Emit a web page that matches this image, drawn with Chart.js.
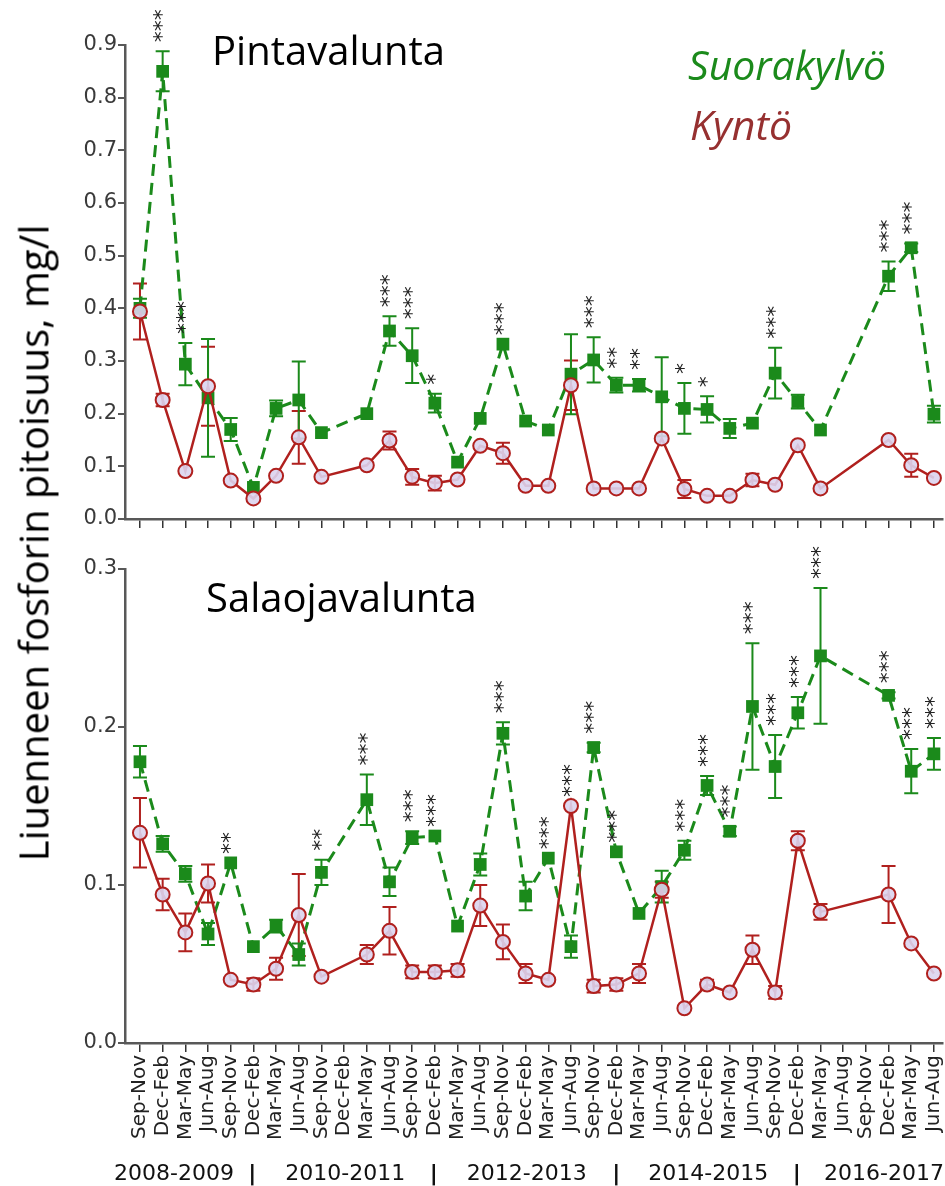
<!DOCTYPE html>
<html>
<head>
<meta charset="utf-8">
<script src="https://cdn.jsdelivr.net/npm/chart.js@4.4.1/dist/chart.umd.min.js"></script>
<style>
  html, body { margin: 0; padding: 0; background: #fff; }
  #wrap { position: relative; width: 945px; height: 1186px; overflow: hidden; }
  #topChart { position: absolute; left: 0; top: 0; }
  #botChart { position: absolute; left: 0; top: 540px; }
  #ytitle {
    position: absolute; left: 33px; top: 543px;
    transform: translate(-50%, -50%) rotate(-90deg);
    font-family: "Open Sans", sans-serif; font-size: 40px; color: #000;
    white-space: nowrap;
  }
</style>
</head>
<body>
<div id="wrap">
  <canvas id="topChart" width="952" height="540"></canvas>
  <canvas id="botChart" width="952" height="646"></canvas>
  <div id="ytitle">Liuenneen fosforin pitoisuus, mg/l</div>
</div>
<script>
// ---- data ----
const seasons = ['Sep-Nov', 'Dec-Feb', 'Mar-May', 'Jun-Aug'];
const categories = Array.from({length: 36}, (_, i) => seasons[i % 4]);
const yearLabels = ['2008-2009', '2010-2011', '2012-2013', '2014-2015', '2016-2017'];

// Pintavalunta (surface runoff)
const topSuora = [0.40, 0.85, 0.294, 0.23, 0.17, 0.06, 0.21, 0.226, 0.164, null, 0.20, 0.357,
                  0.31, 0.22, 0.108, 0.191, 0.332, 0.186, 0.169, 0.275, 0.302, 0.254, 0.254, 0.232,
                  0.21, 0.208, 0.172, 0.182, 0.277, 0.223, 0.169, null, null, 0.461, 0.515, 0.199];
const topSuoraErr = [0.018, 0.038, 0.04, 0.112, 0.022, 0, 0.015, 0.073, 0, 0, 0, 0.028,
                     0.052, 0.018, 0, 0, 0, 0, 0, 0.076, 0.043, 0.014, 0.012, 0.075,
                     0.048, 0.025, 0.018, 0, 0.048, 0.013, 0, 0, 0, 0.028, 0.008, 0.016];
const topKynto = [0.394, 0.226, 0.091, 0.252, 0.073, 0.039, 0.082, 0.155, 0.08, null, 0.102, 0.149,
                  0.08, 0.068, 0.075, 0.139, 0.125, 0.063, 0.063, 0.254, 0.058, 0.058, 0.058, 0.153,
                  0.057, 0.044, 0.044, 0.074, 0.065, 0.14, 0.058, null, null, 0.15, 0.102, 0.078];
const topKyntoErr = [0.053, 0.012, 0, 0.075, 0, 0, 0, 0.05, 0, 0, 0, 0.017,
                     0.015, 0.014, 0, 0, 0.02, 0, 0, 0.047, 0, 0, 0, 0,
                     0.017, 0, 0, 0.012, 0, 0, 0, 0, 0, 0, 0.022, 0];
const topSig = ['', '***', '***', '', '', '', '', '', '', '', '', '***',
                '***', '*', '', '', '***', '', '', '', '***', '**', '**', '',
                '*', '*', '', '', '***', '', '', '', '', '***', '***', ''];

// Salaojavalunta (drainage runoff)
const botSuora = [0.178, 0.126, 0.107, 0.069, 0.114, 0.061, 0.074, 0.056, 0.108, null, 0.154, 0.102,
                  0.13, 0.131, 0.074, 0.113, 0.196, 0.093, 0.117, 0.061, 0.187, 0.121, 0.082, 0.099,
                  0.122, 0.163, 0.134, 0.213, 0.175, 0.209, 0.245, null, null, 0.22, 0.172, 0.183];
const botSuoraErr = [0.01, 0.005, 0.005, 0.007, 0, 0, 0.004, 0.007, 0.008, 0, 0.016, 0.009,
                     0.004, 0, 0, 0.007, 0.007, 0.009, 0, 0.007, 0.003, 0, 0, 0.01,
                     0.006, 0.006, 0.003, 0.04, 0.02, 0.01, 0.043, 0, 0, 0.002, 0.014, 0.01];
const botKynto = [0.133, 0.094, 0.07, 0.101, 0.04, 0.037, 0.047, 0.081, 0.042, null, 0.056, 0.071,
                  0.045, 0.045, 0.046, 0.087, 0.064, 0.044, 0.04, 0.15, 0.036, 0.037, 0.044, 0.097,
                  0.022, 0.037, 0.032, 0.059, 0.032, 0.128, 0.083, null, null, 0.094, 0.063, 0.044];
const botKyntoErr = [0.022, 0.01, 0.012, 0.012, 0, 0.004, 0.007, 0.026, 0, 0, 0.006, 0.015,
                     0.004, 0.004, 0.004, 0.013, 0.011, 0.006, 0, 0, 0.004, 0.004, 0.006, 0.005,
                     0, 0.003, 0, 0.009, 0.004, 0.006, 0.005, 0, 0, 0.018, 0, 0];
const botSig = ['', '', '', '', '**', '', '', '', '**', '', '***', '',
                '***', '***', '', '', '***', '', '***', '***', '***', '***', '', '',
                '***', '***', '***', '***', '***', '***', '***', '', '', '***', '***', '***'];

const GREEN = '#1b8a1b';
const RED = '#b0201e';
const AXIS = '#585858';

function pts(vals, errs) {
  return vals.map((v, i) => ({x: i, y: v, e: errs[i]})).filter(p => p.y !== null);
}

// error bars under the lines
const errorBars = {
  id: 'errorBars',
  beforeDatasetsDraw(chart) {
    const ctx = chart.ctx, ys = chart.scales.y, xs = chart.scales.x;
    chart.data.datasets.forEach(ds => {
      ctx.save();
      ctx.strokeStyle = ds.borderColor;
      ctx.lineWidth = 2;
      ds.data.forEach(p => {
        if (!p.e) return;
        const x = xs.getPixelForValue(p.x);
        const hi = ys.getPixelForValue(p.y + p.e), lo = ys.getPixelForValue(p.y - p.e);
        ctx.beginPath();
        ctx.moveTo(x, hi); ctx.lineTo(x, lo);
        ctx.moveTo(x - 7, hi); ctx.lineTo(x + 7, hi);
        ctx.moveTo(x - 7, lo); ctx.lineTo(x + 7, lo);
        ctx.stroke();
      });
      ctx.restore();
    });
  }
};

// significance stars + free texts
const extras = {
  id: 'extras',
  afterDraw(chart, args, opts) {
    const ctx = chart.ctx, ys = chart.scales.y, xs = chart.scales.x;
    ctx.save();
    (opts.sig || []).forEach((s, i) => {
      if (!s) return;
      let top = 0;
      chart.data.datasets.forEach(ds => {
        const p = ds.data.find(d => d.x === i);
        if (p) top = Math.max(top, p.y + (p.e || 0));
      });
      const x = xs.getPixelForValue(i), y = ys.getPixelForValue(top) - 9;
      ctx.save();
      ctx.translate(x, y);
      ctx.rotate(-Math.PI / 2);
      ctx.font = '22px "DejaVu Sans"';
      ctx.fillStyle = '#222';
      ctx.textAlign = 'left';
      ctx.textBaseline = 'middle';
      ctx.fillText(s, 0, 1);
      ctx.restore();
    });
    (opts.texts || []).forEach(t => {
      ctx.font = t.font;
      ctx.fillStyle = t.color;
      ctx.textAlign = 'left';
      ctx.textBaseline = 'alphabetic';
      ctx.fillText(t.text, t.x, t.y);
    });
    if (opts.years) {
      const centers = [1.5, 9.05, 17.05, 25.05, 32.8];
      const seps = [4.95, 12.95, 21.0, 28.95];
      ctx.font = '22px "DejaVu Sans"';
      ctx.fillStyle = '#111';
      ctx.textAlign = 'center';
      ctx.textBaseline = 'middle';
      yearLabels.forEach((lab, k) => ctx.fillText(lab, xs.getPixelForValue(centers[k]), opts.yearsY));
      ctx.font = 'bold 22px "DejaVu Sans"';
      seps.forEach(s => ctx.fillText('|', xs.getPixelForValue(s), opts.yearsY));
    }
    ctx.restore();
  }
};

function makeChart(id, kynto, kyntoErr, suora, suoraErr, yMax, cfg) {
  return new Chart(document.getElementById(id), {
    type: 'line',
    data: {
      datasets: [
        {
          label: 'Kyntö', data: pts(kynto, kyntoErr),
          borderColor: RED, borderWidth: 2.5,
          pointStyle: 'circle', pointRadius: 7, pointBorderWidth: 2,
          pointBackgroundColor: 'rgba(220,212,238,0.9)', pointBorderColor: RED
        },
        {
          label: 'Suorakylvö', data: pts(suora, suoraErr),
          borderColor: GREEN, borderWidth: 3, borderDash: [12, 7],
          pointStyle: 'rect', pointRadius: 9, pointBorderWidth: 0,
          pointBackgroundColor: GREEN, pointBorderColor: GREEN
        }
      ]
    },
    options: {
      responsive: false,
      animation: false,
      layout: {padding: {left: 0, right: 3, top: cfg.padTop, bottom: 0}},
      plugins: {
        legend: {display: false},
        tooltip: {enabled: false},
        extras: cfg.extras
      },
      scales: {
        x: {
          type: 'linear', min: -0.66, max: 35.4,
          afterFit: s => { s.height = cfg.xHeight; s.paddingLeft = 0; s.paddingRight = 0; },
          border: {display: true, color: AXIS, width: 2.5},
          grid: {drawOnChartArea: false, drawTicks: true, tickLength: 9, tickColor: '#333', lineWidth: 1.5},
          ticks: {
            display: cfg.xLabels, stepSize: 1, includeBounds: false, autoSkip: false,
            minRotation: 90, maxRotation: 90, padding: 3,
            color: '#222', font: {family: 'DejaVu Sans', size: 20},
            callback: v => Number.isInteger(v) ? categories[v] : ''
          }
        },
        y: {
          min: 0, max: yMax,
          afterFit: s => { s.width = 125; },
          border: {display: true, color: AXIS, width: 2.5},
          grid: {drawOnChartArea: false, drawTicks: true, tickLength: 7, tickColor: AXIS, lineWidth: 2},
          ticks: {
            stepSize: 0.1, padding: 1, color: '#3a3a3a',
            font: {family: 'DejaVu Sans', size: 21},
            callback: v => v.toFixed(1)
          }
        }
      }
    },
    plugins: [errorBars, extras]
  });
}

makeChart('topChart', topKynto, topKyntoErr, topSuora, topSuoraErr, 0.9, {
  padTop: 45, xHeight: 21, xLabels: false,
  extras: {
    sig: topSig,
    texts: [
      {text: 'Pintavalunta', x: 212, y: 65, font: '40px "Open Sans"', color: '#000'},
      {text: 'Suorakylvö', x: 688, y: 80, font: 'italic 41px "Open Sans"', color: GREEN},
      {text: 'Kyntö', x: 690, y: 140, font: 'italic 41px "Open Sans"', color: '#963030'}
    ]
  }
});

makeChart('botChart', botKynto, botKyntoErr, botSuora, botSuoraErr, 0.3, {
  padTop: 29, xHeight: 143, xLabels: true,
  extras: {
    sig: botSig,
    texts: [
      {text: 'Salaojavalunta', x: 206, y: 72, font: '40px "Open Sans"', color: '#000'}
    ],
    years: true, yearsY: 634
  }
});
</script>
</body>
</html>
